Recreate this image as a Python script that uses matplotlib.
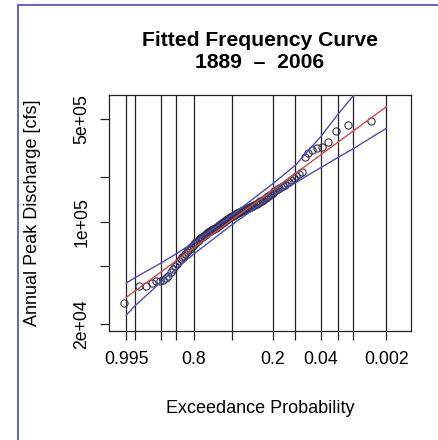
import numpy as np
import matplotlib
matplotlib.use("Agg")
import matplotlib.pyplot as plt
from matplotlib.patches import Rectangle
from matplotlib.ticker import FixedLocator, NullLocator
from statistics import NormalDist

# annual peak discharges (cfs), largest first
peak_cfs = [
    484000, 455000, 414000, 350000, 322000, 317000, 307000, 293000, 275000,
    217800, 211100, 204600, 198300, 192200, 187700, 183400, 179100, 174900, 172200, 169500,
    167200, 164500, 161000, 157000, 154300, 151800, 149500, 147300, 145000, 142700,
    141000, 139200, 137500, 135800, 134000, 132500, 131000, 129600, 128200, 126900,
    126100, 125300, 124600, 123800, 123000, 122000, 121000, 120100, 119100, 118200,
    117100, 116000, 115000, 113900, 112800, 111900, 111000, 110000, 109000, 108000,
    106900, 105800, 104800, 103700, 102700, 101400, 100200, 99000, 97700, 96500,
    95400, 94300, 93300, 92300, 91300, 90600, 89900, 89200, 88500, 87800,
    86700, 85600, 84600, 83500, 82500, 81400, 80200, 79100, 78000, 76900,
    75500, 74100, 72700, 71400, 70000, 68400, 66800, 65200, 63700, 62200,
    60500, 58800, 57100, 55500, 54000, 51800, 49700, 47700,
    45500, 42700, 41400, 40400, 39800, 39200, 38000, 36600, 36300, 27900,
]

# probability grid / ticks on the x axis
exceed_ticks = [0.995, 0.99, 0.95, 0.9, 0.8, 0.5, 0.2, 0.1, 0.04, 0.02, 0.01, 0.002]
exceed_labels = ['0.995', '', '', '', '0.8', '', '0.2', '', '0.04', '', '', '0.002']

# confidence limits at the tick probabilities (cfs)
upper_cfs = [38300, 41700, 52400, 60200, 72400, 110400, 181100, 242300, 379300, 535400, 720800, 1550000]
lower_cfs = [23200, 26900, 38900, 47600, 60500, 95100, 150100, 184200, 233300, 273000, 314300, 431900]

# log-Pearson III fit (log10 space)
log_mean = 5.0225
log_sd = 0.234
log_skew = 0.3

y_ticks = [2e4, 5e4, 1e5, 2e5, 5e5]
y_labels = ['2e+04', '', '1e+05', '', '5e+05']


def freq_factor(p, g):
    # Wilson-Hilferty frequency factor for exceedance probability p
    z = NormalDist().inv_cdf(1 - p)
    return (2 / g) * ((1 + g * z / 6 - g * g / 36) ** 3 - 1)


def main():
    plt.rcParams['font.family'] = ['Liberation Sans', 'DejaVu Sans']

    n = len(peak_cfs)
    q = np.sort(np.array(peak_cfs, dtype=float))[::-1]
    pp = (np.arange(1, n + 1) - 0.5) / n  # Hazen plotting position
    kx = np.array([freq_factor(p, log_skew) for p in pp])
    ktick = np.array([freq_factor(p, log_skew) for p in exceed_ticks])

    W, H = 438, 440
    fig = plt.figure(figsize=(W / 100, H / 100), dpi=100)
    ax = fig.add_axes([109 / W, 1 - 331 / H, 302 / W, 236 / H])

    for k in ktick:
        ax.axvline(k, color='#222222', lw=0.9, zorder=1)

    ax.plot(kx, q, 'o', mfc='none', mec='#30304a', mew=0.8, ms=5.2, zorder=3)
    ax.plot(ktick, 10 ** (log_mean + log_sd * ktick), color='#d84a4a', lw=1.0, zorder=4)
    ax.plot(ktick, upper_cfs, color='#4a4ac8', lw=1.0, zorder=4)
    ax.plot(ktick, lower_cfs, color='#4a4ac8', lw=1.0, zorder=4)

    ax.set_yscale('log')
    ax.set_xlim(-2.666, 3.773)
    ax.set_ylim(18050, 727700)

    ax.xaxis.set_major_locator(FixedLocator(ktick))
    ax.set_xticklabels(exceed_labels)
    ax.yaxis.set_major_locator(FixedLocator(y_ticks))
    ax.yaxis.set_minor_locator(NullLocator())
    ax.set_yticklabels(y_labels, rotation=90, va='center')
    ax.tick_params(axis='both', length=6.5, width=0.9, color='#222222', labelsize=12.7)
    ax.tick_params(axis='x', pad=8)
    ax.tick_params(axis='y', pad=7)

    for s in ax.spines.values():
        s.set_linewidth(0.9)
        s.set_color('#222222')

    fig.text(260 / W, 1 - 408 / H, 'Exceedance Probability', ha='center', va='center',
             fontsize=13)
    fig.text(33 / W, 1 - 213 / H, 'Annual Peak Discharge [cfs]', ha='center', va='center',
             rotation=90, fontsize=13)

    fig.text(260 / W, 1 - 40 / H, 'Fitted Frequency Curve', ha='center', va='center',
             fontsize=15.2, fontweight='bold')
    fig.text(260 / W, 1 - 62 / H, '1889  \u2013  2006', ha='center', va='center',
             fontsize=15.2, fontweight='bold')

    # blue frame around the screenshot
    fig.add_artist(Rectangle((18 / W, -0.05), 1.1, 1 - 5 / H + 0.05,
                             transform=fig.transFigure, fill=False,
                             edgecolor='#5555cc', lw=1.3, clip_on=False))

    fig.savefig('out.png', dpi=100)


if __name__ == '__main__':
    main()
